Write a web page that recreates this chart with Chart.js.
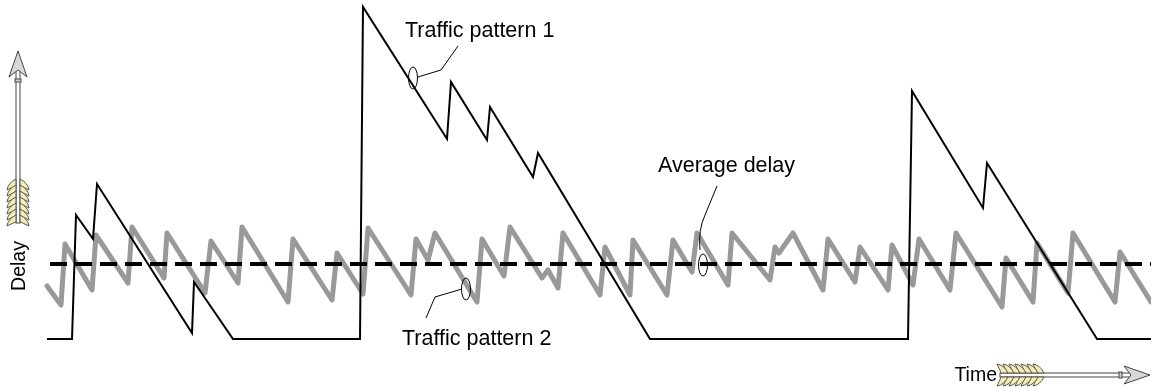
<!DOCTYPE html>
<html>
<head>
<meta charset="utf-8">
<script src="https://cdn.jsdelivr.net/npm/chart.js@4"></script>
<style>
  body { margin: 0; background: #fff; }
  #wrap { width: 1151px; height: 390px; position: relative; }
</style>
</head>
<body>
<div id="wrap"><canvas id="chartDelay"></canvas></div>
<script>
// Traffic pattern 1 (black) - time / delay
const time1 = [47, 72, 76, 93, 97, 192, 194, 233, 360, 363, 447, 451, 487, 490, 533, 538, 650, 908, 912, 983, 987, 1097, 1151];
const delay1 = [51, 51, 175, 151, 206, 57, 108, 51, 51, 383, 251, 308, 250, 283, 213, 237, 51, 51, 299, 182, 227, 51, 51];

// Traffic pattern 2 (grey sawtooth)
const time2 = [47, 61, 65, 92, 96, 128, 132, 164, 167, 205, 211, 238, 242, 288, 293, 332, 337, 363, 368, 411, 416, 428, 435, 477, 482, 504, 510, 542, 548, 558, 563, 600, 605, 630, 633, 667, 673, 692, 697, 728, 732, 770, 775, 779, 793, 823, 828, 855, 860, 888, 892, 913, 919, 950, 956, 1002, 1006, 1033, 1037, 1068, 1073, 1115, 1120, 1151];
const delay2 = [104, 85, 146, 100, 155, 107, 163, 112, 157, 97, 149, 107, 163, 88, 151, 90, 137, 96, 162, 95, 151, 130, 157, 88, 151, 114, 163, 112, 120, 102, 157, 95, 143, 95, 150, 95, 150, 118, 157, 105, 157, 110, 143, 137, 157, 100, 151, 108, 143, 100, 145, 105, 151, 100, 157, 83, 132, 88, 147, 97, 157, 88, 138, 88];

// Average delay
const avgDelay = 126;
const avgStart = 50, avgEnd = 1151;

// Callouts: [time, delay, label]
const callouts = [
  { t: 413, d: 312, text: "Traffic pattern 1" },
  { t: 703, d: 125, text: "Average delay" },
  { t: 466, d: 101, text: "Traffic pattern 2" },
];

const FONT = '"Liberation Sans", Arial, sans-serif';

function pts(t, d) {
  return t.map((x, i) => ({ x: x, y: d[i] }));
}

// dibuja flecha con plumas
function drawArrow(ctx, vertical) {
  ctx.save();
  if (vertical) {
    ctx.translate(18, 51);
    ctx.rotate(Math.PI / 2);
  } else {
    ctx.translate(1150, 375);
    ctx.rotate(Math.PI);
  }
  // ahora la punta está en (0,0) y la flecha va hacia +x
  const len = vertical ? 172 : 150;
  ctx.lineWidth = 1;
  ctx.strokeStyle = "#444";
  ctx.fillStyle = "#fff";
  ctx.fillRect(10, -2, len - 10, 4);
  ctx.strokeRect(10, -2, len - 10, 4);
  // anillo
  ctx.fillStyle = "#ccc";
  ctx.fillRect(28, -3, 3, 6);
  ctx.strokeRect(28, -3, 3, 6);
  // punta
  ctx.beginPath();
  ctx.moveTo(0, 0);
  ctx.lineTo(26, -9);
  ctx.lineTo(19, 0);
  ctx.lineTo(26, 9);
  ctx.closePath();
  ctx.fillStyle = "#d8d8d8";
  ctx.fill();
  ctx.stroke();
  // plumas
  ctx.fillStyle = "#f4eeb4";
  ctx.strokeStyle = "#555";
  for (let i = 0; i < 7; i++) {
    const x0 = len - 44 + i * 6;
    [-1, 1].forEach((s) => {
      ctx.beginPath();
      ctx.moveTo(x0, s * 2);
      ctx.quadraticCurveTo(x0 + 4, s * 10, x0 + 11, s * 11);
      ctx.quadraticCurveTo(x0 + 8, s * 5, x0 + 7, s * 2);
      ctx.closePath();
      ctx.fill();
      ctx.stroke();
    });
  }
  ctx.restore();
}

const decorPlugin = {
  id: "decor",
  afterDatasetsDraw(chart) {
    const ctx = chart.ctx;
    const xs = chart.scales.x;
    const ys = chart.scales.y;
    ctx.save();
    ctx.fillStyle = "#000";
    ctx.strokeStyle = "#000";
    ctx.lineWidth = 1;
    ctx.font = "21.5px " + FONT;
    ctx.textBaseline = "alphabetic";

    // Traffic pattern 1
    let c = callouts[0];
    let cx = xs.getPixelForValue(c.t), cy = ys.getPixelForValue(c.d);
    ctx.beginPath();
    ctx.ellipse(cx, cy, 4.5, 11, 0, 0, Math.PI * 2);
    ctx.stroke();
    ctx.beginPath();
    ctx.moveTo(cx + 5, cy - 1);
    ctx.lineTo(cx + 28, cy - 8);
    ctx.lineTo(cx + 45, cy - 32);
    ctx.stroke();
    ctx.textAlign = "left";
    ctx.fillText(c.text, 405, 37);

    // Average delay
    c = callouts[1];
    cx = xs.getPixelForValue(c.t); cy = ys.getPixelForValue(c.d);
    ctx.beginPath();
    ctx.ellipse(cx, cy, 4.5, 11, 0, 0, Math.PI * 2);
    ctx.stroke();
    ctx.beginPath();
    ctx.moveTo(cx - 3, cy - 15);
    ctx.quadraticCurveTo(cx - 5, cy - 35, cx + 2, cy - 50);
    ctx.lineTo(cx + 14, cy - 79);
    ctx.stroke();
    ctx.fillText(c.text, 658, 172);

    // Traffic pattern 2
    c = callouts[2];
    cx = xs.getPixelForValue(c.t); cy = ys.getPixelForValue(c.d);
    ctx.beginPath();
    ctx.ellipse(cx, cy, 4.5, 11, 0, 0, Math.PI * 2);
    ctx.stroke();
    ctx.beginPath();
    ctx.moveTo(cx - 4, cy);
    ctx.lineTo(cx - 31, cy + 8);
    ctx.lineTo(cx - 40, cy + 29);
    ctx.stroke();
    ctx.fillText(c.text, 402, 345);

    // ejes: Delay / Time
    ctx.font = "19.5px " + FONT;
    ctx.save();
    ctx.translate(25, 266);
    ctx.rotate(-Math.PI / 2);
    ctx.textAlign = "center";
    ctx.fillText("Delay", 0, 0);
    ctx.restore();
    ctx.textAlign = "right";
    ctx.fillText("Time", 997, 381);

    drawArrow(ctx, true);
    drawArrow(ctx, false);
    ctx.restore();
  },
};

new Chart(document.getElementById("chartDelay"), {
  type: "line",
  data: {
    datasets: [
      {
        label: "Traffic pattern 2",
        data: pts(time2, delay2),
        borderColor: "#999999",
        borderWidth: 5,
        pointRadius: 0,
        tension: 0,
        borderJoinStyle: "round",
        borderCapStyle: "round",
        order: 3,
      },
      {
        label: "Average delay",
        data: [{ x: avgStart, y: avgDelay }, { x: avgEnd, y: avgDelay }],
        borderColor: "#000",
        borderWidth: 4,
        borderDash: [17, 8],
        pointRadius: 0,
        order: 2,
      },
      {
        label: "Traffic pattern 1",
        data: pts(time1, delay1),
        borderColor: "#000",
        borderWidth: 2,
        pointRadius: 0,
        tension: 0,
        order: 1,
      },
    ],
  },
  options: {
    responsive: true,
    maintainAspectRatio: false,
    animation: false,
    layout: { padding: 0 },
    plugins: {
      legend: { display: false },
      tooltip: { enabled: false },
    },
    scales: {
      x: { type: "linear", min: 0, max: 1151, display: false },
      y: { type: "linear", min: 0, max: 390, display: false },
    },
  },
  plugins: [decorPlugin],
});
</script>
</body>
</html>
